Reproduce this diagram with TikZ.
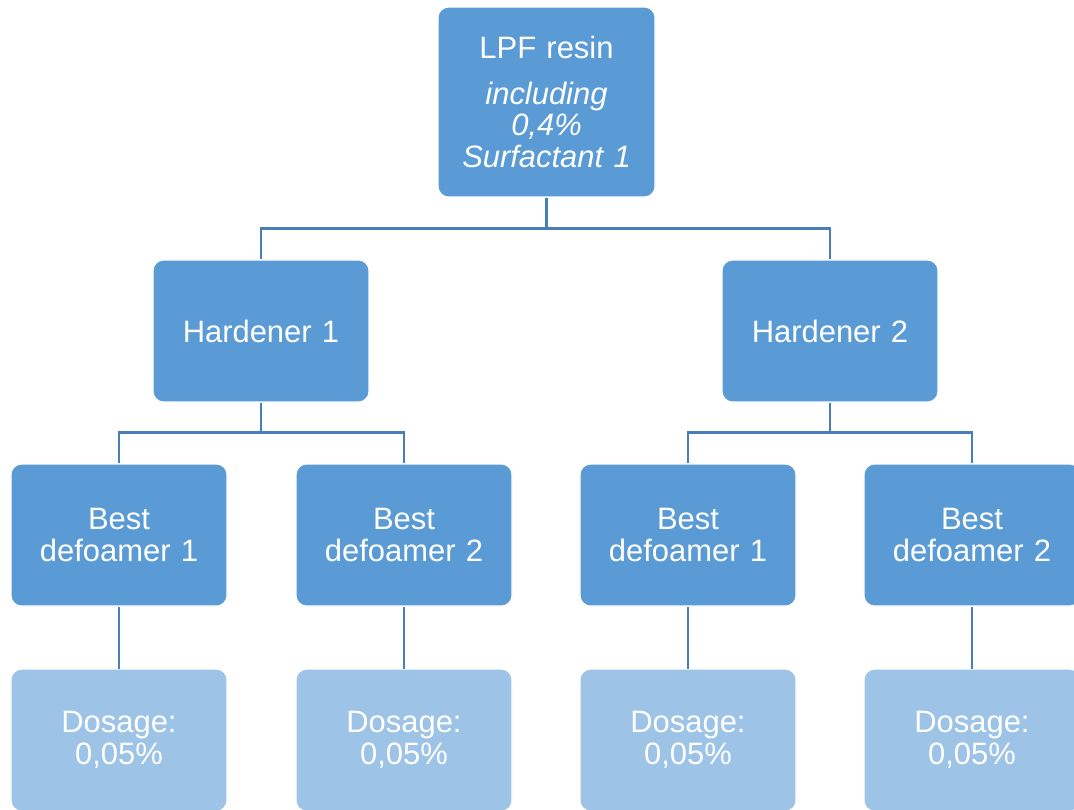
\documentclass[tikz,border=0pt]{standalone}
\usepackage{fontspec}
\setmainfont{Liberation Sans}
\usepackage{xcolor}
\usetikzlibrary{positioning}
\definecolor{darkbox}{HTML}{5B9BD5}
\definecolor{lightbox}{HTML}{9DC3E6}
\definecolor{linkblue}{HTML}{4A7EBB}
\tikzset{
  mainbox/.style={
    rounded corners=6pt,draw=white,fill=darkbox,
    line width=.6pt,minimum height=2.84cm,minimum width=4.32cm,
    text width=4.2cm,align=center,text=white,font=\fontsize{17.6}{18}\selectfont,
    inner sep=0pt
  },
  dosebox/.style={
    mainbox,fill=lightbox
  },
  link/.style={draw=linkblue,line width=1.2pt}
}
\begin{document}
\begin{tikzpicture}[node distance=1.24cm]
\useasboundingbox (0,0) rectangle (21.48,-16.18);
\clip (0,0) rectangle (21.48,-16.18);

\node[mainbox,minimum height=3.8cm,minimum width=4.34cm] (lpf) at (10.93,-2.04)
{LPF resin\\[8pt] \itshape including\\ \itshape 0,4\%\\ \itshape Surfactant 1};

\node[mainbox] (h1) at (5.22,-6.62) {Hardener 1};
\node[mainbox] (h2) at (16.6,-6.62) {Hardener 2};

\node[mainbox] (b1) at (2.38,-10.7) {Best\\defoamer 1};
\node[mainbox] (b2) at (8.08,-10.7) {Best\\defoamer 2};
\node[mainbox] (b3) at (13.76,-10.7) {Best\\defoamer 1};
\node[mainbox] (b4) at (19.44,-10.7) {Best\\defoamer 2};

\node[dosebox,below=of b1] (d1) {Dosage:\\0,05\%};
\node[dosebox,below=of b2] (d2) {Dosage:\\0,05\%};
\node[dosebox,below=of b3] (d3) {Dosage:\\0,05\%};
\node[dosebox,below=of b4] (d4) {Dosage:\\0,05\%};

\draw[link] (lpf.south) -- ++(0,-0.62) -| (h1.north);
\draw[link] (lpf.south) -- ++(0,-0.62) -| (h2.north);
\draw[link] (h1.south) -- ++(0,-0.6) -| (b1.north);
\draw[link] (h1.south) -- ++(0,-0.6) -| (b2.north);
\draw[link] (h2.south) -- ++(0,-0.6) -| (b3.north);
\draw[link] (h2.south) -- ++(0,-0.6) -| (b4.north);
\foreach \i in {1,2,3,4}
  \draw[link] (b\i.south) -- (d\i.north);
\end{tikzpicture}
\end{document}
